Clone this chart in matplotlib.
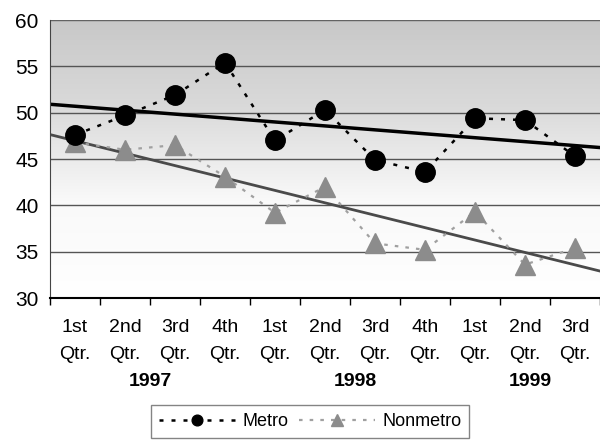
import numpy as np
import matplotlib.pyplot as plt
from matplotlib.colors import LinearSegmentedColormap
from matplotlib.transforms import blended_transform_factory

plt.rcParams['font.family'] = ['Liberation Sans', 'DejaVu Sans']

quarters = ["1st", "2nd", "3rd", "4th", "1st", "2nd", "3rd", "4th", "1st", "2nd", "3rd"]
years = ["1997", "1998", "1999"]
year_pos = [2.5, 6.6, 10.1]
metro = [47.6, 49.7, 51.9, 55.4, 47.0, 50.3, 44.9, 43.6, 49.4, 49.2, 45.3]
nonmetro = [46.8, 46.0, 46.5, 43.1, 39.2, 42.0, 35.9, 35.2, 39.3, 33.6, 35.4]

x = np.arange(1, len(quarters) + 1)

fig = plt.figure(figsize=(6, 4.4), dpi=100)
ax = fig.add_axes([0.0833, 0.3227, 0.9167, 0.6318])

# shaded backdrop, grey at the top fading to white lower down
grad = np.linspace(0, 1, 256).reshape(-1, 1)
cmap = LinearSegmentedColormap.from_list(
    "bg", [(0.0, "#c8c8c8"), (0.3, "#d9d9d9"), (0.5, "#ebebeb"), (0.65, "#f9f9f9"), (1.0, "#ffffff")])
ax.imshow(grad, cmap=cmap, aspect="auto", extent=[0.5, 11.5, 30, 60],
          origin="upper", zorder=0)

for v in range(35, 61, 5):
    ax.axhline(v, color="#555555", lw=1.0, zorder=1)

ax.plot(x, metro, linestyle=(0, (1.6, 3.2)), color="black", lw=1.8,
        marker="o", markersize=14, markerfacecolor="black", markeredgecolor="black",
        zorder=4, label="Metro")
ax.plot(x, nonmetro, linestyle=(0, (1.6, 3.2)), color="#a0a0a0", lw=1.6,
        marker="^", markersize=15, markerfacecolor="#8c8c8c", markeredgecolor="#8c8c8c",
        zorder=3, label="Nonmetro")

# linear trend lines over the full width
xs = np.array([0.5, 11.5])
for series, col, lw in [(metro, "black", 2.5), (nonmetro, "#4a4a4a", 2.0)]:
    k, b = np.polyfit(x, series, 1)
    ax.plot(xs, k * xs + b, color=col, lw=lw, zorder=2)

ax.set_xlim(0.5, 11.5)
ax.set_ylim(30, 60)
ax.set_yticks(range(30, 61, 5))
ax.tick_params(axis="y", length=0, labelsize=15, pad=8)

ax.set_xticks(np.arange(0.5, 12, 1))
ax.set_xticklabels([])
ax.tick_params(axis="x", which="major", length=5, width=1, color="black")
ax.set_xticks(x, minor=True)
ax.set_xticklabels([q + "\nQtr." for q in quarters], minor=True, fontsize=14, linespacing=1.75)
ax.tick_params(axis="x", which="minor", length=0, pad=15)

for s in ["top", "right"]:
    ax.spines[s].set_visible(False)
ax.spines["left"].set_color("#444444")
ax.spines["bottom"].set_color("black")
ax.spines["bottom"].set_linewidth(1.5)
ax.axhline(60, color="#666666", lw=1.2, zorder=1)

tr = blended_transform_factory(ax.transData, fig.transFigure)
for yr, p in zip(years, year_pos):
    ax.text(p, 0.132, yr, transform=tr, ha="center", va="center",
            fontsize=14, fontweight="bold")

fig.legend(loc="center", bbox_to_anchor=(0.517, 0.042), ncol=2, fontsize=13,
           handlelength=4.2, markerscale=0.55, frameon=True, fancybox=False,
           edgecolor="#666666", columnspacing=0.6, handletextpad=0.4,
           borderpad=0.45)

fig.savefig("out.png", dpi=100)
